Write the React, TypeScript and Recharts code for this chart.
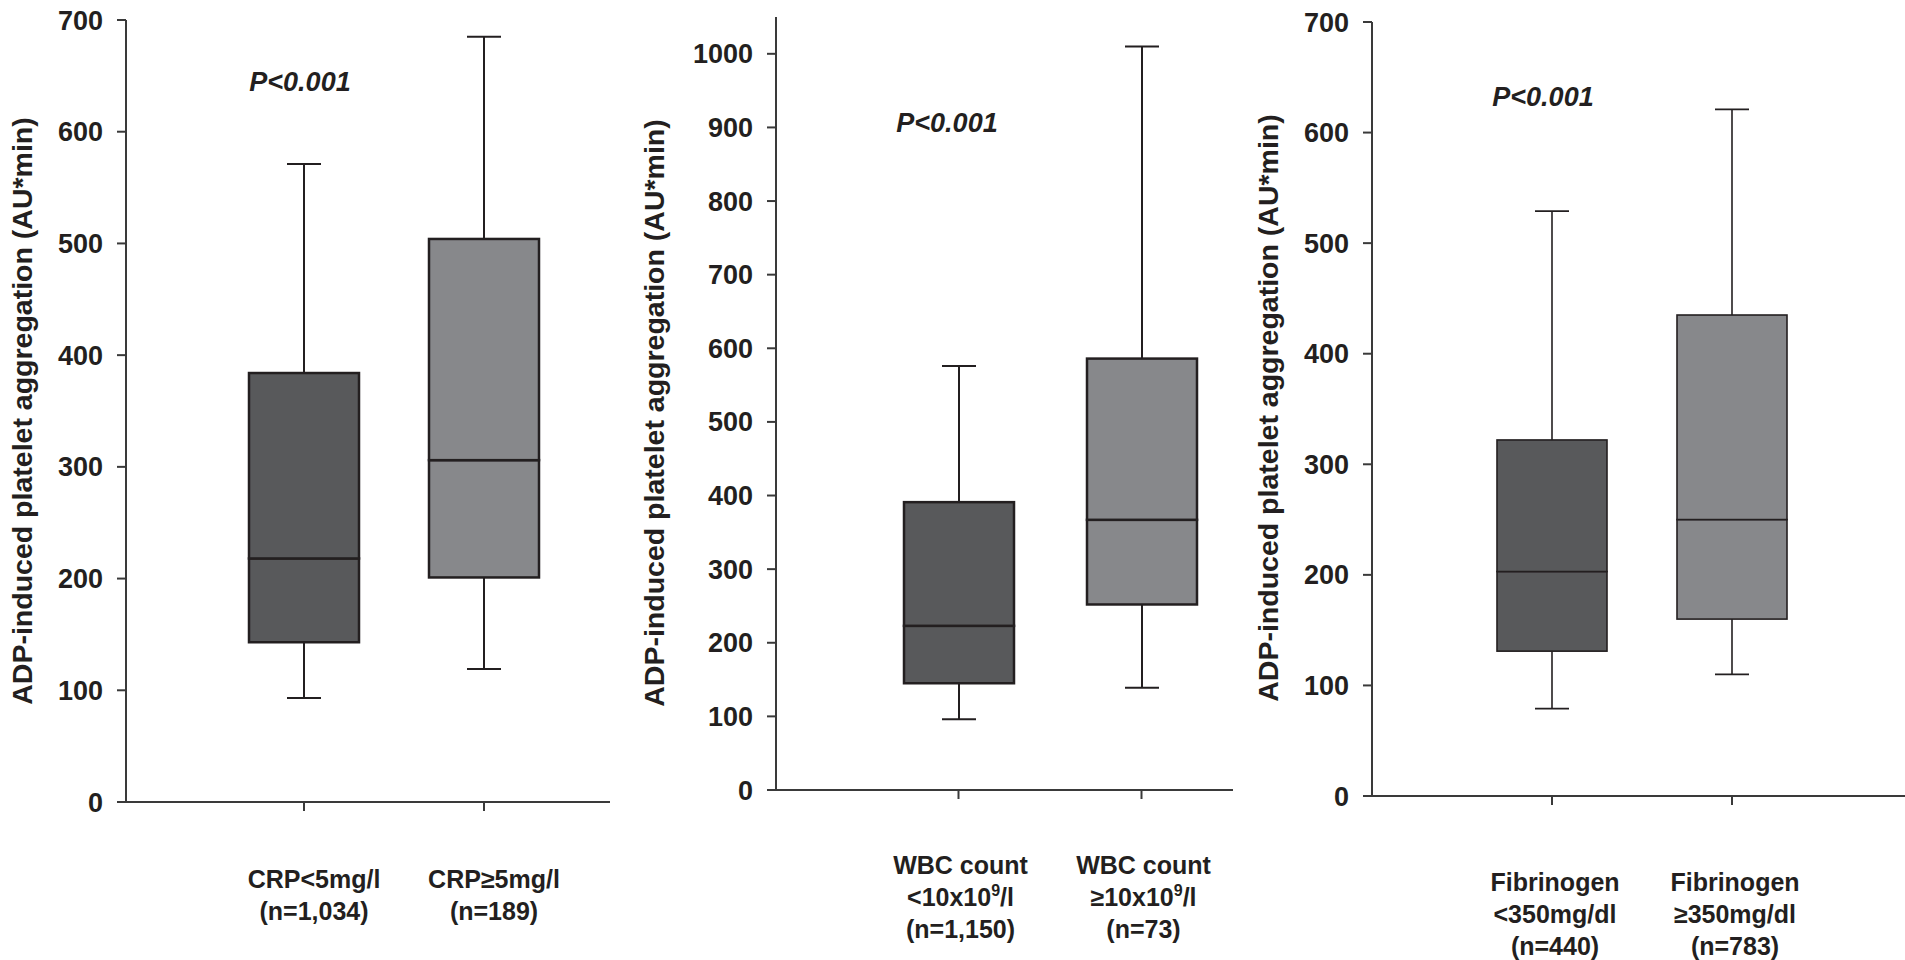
import React from 'react';
import { BarChart, Bar, XAxis, YAxis } from 'recharts';

// ---------------- data ----------------
// Panel 1: CRP
const crpLabels = [
  ['CRP<5mg/l', '(n=1,034)'],
  ['CRP≥5mg/l', '(n=189)'],
];
const crpMin = [93, 119];
const crpQ1 = [143, 201];
const crpMedian = [218, 306];
const crpQ3 = [384, 504];
const crpMax = [571, 685];
const crpTicks = [0, 100, 200, 300, 400, 500, 600, 700];

// Panel 2: WBC count
const wbcLabels = [
  ['WBC count', '<10x10^9/l', '(n=1,150)'],
  ['WBC count', '≥10x10^9/l', '(n=73)'],
];
const wbcMin = [96, 139];
const wbcQ1 = [145, 252];
const wbcMedian = [223, 367];
const wbcQ3 = [391, 586];
const wbcMax = [576, 1010];
const wbcTicks = [0, 100, 200, 300, 400, 500, 600, 700, 800, 900, 1000];

// Panel 3: Fibrinogen
const fibLabels = [
  ['Fibrinogen', '<350mg/dl', '(n=440)'],
  ['Fibrinogen', '≥350mg/dl', '(n=783)'],
];
const fibMin = [79, 110];
const fibQ1 = [131, 160];
const fibMedian = [203, 250];
const fibQ3 = [322, 435];
const fibMax = [529, 621];
const fibTicks = [0, 100, 200, 300, 400, 500, 600, 700];

const yTitle = 'ADP-induced platelet aggregation (AU*min)';
const pText = 'P<0.001';

// ---------------- styles ----------------
const FONT = '"Liberation Sans", Arial, Helvetica, sans-serif';
const INK = '#231f20';
const AXIS = '#3a3a3a';
const BOX_FILLS = ['#58595b', '#87888b'];
const CAP = 34;

function buildRows(min: number[], q1: number[], med: number[], q3: number[], max: number[]) {
  return min.map((m, i) => ({
    key: 'g' + i,
    base: m,
    lowW: q1[i] - m,
    boxLo: med[i] - q1[i],
    boxHi: q3[i] - med[i],
    highW: max[i] - q3[i],
  }));
}

function renderLine(line: string) {
  const idx = line.indexOf('^');
  if (idx < 0) return line;
  const a = line.slice(0, idx);
  const sup = line.charAt(idx + 1);
  const rest = line.slice(idx + 2);
  return [
    <tspan key="a">{a}</tspan>,
    <tspan key="s" dy={-10} fontSize={16}>{sup}</tspan>,
    <tspan key="r" dy={10}>{rest}</tspan>,
  ];
}

type PanelProps = {
  left: number;
  width: number;
  rows: any[];
  labels: string[][];
  ticks: number[];
  domainMax: number;
  margin: { top: number; right: number; bottom: number; left: number };
  padding: { left: number; right: number };
  labelFirst: number;
  labelGap: number;
  labelDx: number;
  boxStroke: number;
  whiskerStroke: number;
  titlePos: [number, number];
  pPos: [number, number];
};

function Panel(p: PanelProps) {
  const tick = (props: any) => {
    const { x, y, payload } = props;
    const i = parseInt(String(payload.value).slice(1), 10);
    const lines = p.labels[i] || [];
    return (
      <g>
        {lines.map((ln, k) => (
          <text
            key={k}
            x={x + p.labelDx}
            y={y + p.labelFirst + k * p.labelGap}
            textAnchor="middle"
            fontFamily={FONT}
            fontWeight={700}
            fontSize={25}
            fill={INK}
          >
            {renderLine(ln)}
          </text>
        ))}
      </g>
    );
  };

  const whisker = (end: 'top' | 'bottom') => (s: any) => {
    const { x, y, width, height } = s;
    const cx = x + width / 2;
    const capY = end === 'top' ? y : y + height;
    return (
      <g>
        <line x1={cx} x2={cx} y1={y} y2={y + height} stroke={INK} strokeWidth={p.whiskerStroke} />
        <line x1={cx - CAP / 2} x2={cx + CAP / 2} y1={capY} y2={capY} stroke={INK} strokeWidth={p.whiskerStroke} />
      </g>
    );
  };

  const box = (s: any) => (
    <rect
      x={s.x}
      y={s.y}
      width={s.width}
      height={s.height}
      fill={BOX_FILLS[s.index % BOX_FILLS.length]}
      stroke={INK}
      strokeWidth={p.boxStroke}
    />
  );

  const annotations = () => (
    <g>
      <text
        x={p.titlePos[0]}
        y={p.titlePos[1]}
        transform={`rotate(-90 ${p.titlePos[0]} ${p.titlePos[1]})`}
        textAnchor="middle"
        dominantBaseline="central"
        fontFamily={FONT}
        fontWeight={700}
        fontSize={28.5}
        fill={INK}
      >
        {yTitle}
      </text>
      <text
        x={p.pPos[0]}
        y={p.pPos[1]}
        textAnchor="middle"
        dominantBaseline="central"
        fontFamily={FONT}
        fontWeight={700}
        fontStyle="italic"
        fontSize={27}
        fill={INK}
      >
        {pText}
      </text>
    </g>
  );

  return (
    <div style={{ position: 'absolute', left: p.left, top: 0, width: p.width, height: 960 }}>
      <BarChart width={p.width} height={960} data={p.rows} margin={p.margin}>
        <XAxis
          dataKey="key"
          type="category"
          interval={0}
          padding={p.padding}
          height={150}
          tickSize={9}
          axisLine={{ stroke: AXIS, strokeWidth: 2 }}
          tickLine={{ stroke: AXIS, strokeWidth: 2 }}
          tick={tick}
        />
        <YAxis
          type="number"
          domain={[0, p.domainMax]}
          ticks={p.ticks}
          interval={0}
          width={60}
          tickSize={9}
          tickMargin={14}
          axisLine={{ stroke: AXIS, strokeWidth: 2 }}
          tickLine={{ stroke: AXIS, strokeWidth: 2 }}
          tick={{ fontSize: 27, fontWeight: 700, fill: INK, fontFamily: FONT }}
          label={annotations}
        />
        <Bar dataKey="base" stackId="a" barSize={110} isAnimationActive={false} shape={() => <g />} />
        <Bar dataKey="lowW" stackId="a" barSize={110} isAnimationActive={false} shape={whisker('bottom')} />
        <Bar dataKey="boxLo" stackId="a" barSize={110} isAnimationActive={false} shape={box} />
        <Bar dataKey="boxHi" stackId="a" barSize={110} isAnimationActive={false} shape={box} />
        <Bar dataKey="highW" stackId="a" barSize={110} isAnimationActive={false} shape={whisker('top')} />
      </BarChart>
    </div>
  );
}

export default function App() {
  const crpRows = buildRows(crpMin, crpQ1, crpMedian, crpQ3, crpMax);
  const wbcRows = buildRows(wbcMin, wbcQ1, wbcMedian, wbcQ3, wbcMax);
  const fibRows = buildRows(fibMin, fibQ1, fibMedian, fibQ3, fibMax);
  return (
    <div style={{ position: 'absolute', left: 0, top: 0, width: 1905, height: 960, background: '#fff' }}>
      <Panel
        left={0}
        width={620}
        rows={crpRows}
        labels={crpLabels}
        ticks={crpTicks}
        domainMax={700}
        margin={{ top: 20, right: 10, bottom: 8, left: 66 }}
        padding={{ left: 88, right: 36 }}
        labelFirst={75}
        labelGap={32}
        labelDx={10}
        boxStroke={2.5}
        whiskerStroke={2}
        titlePos={[22, 411]}
        pPos={[300, 82]}
      />
      <Panel
        left={620}
        width={620}
        rows={wbcRows}
        labels={wbcLabels}
        ticks={wbcTicks}
        domainMax={1050}
        margin={{ top: 17, right: 7, bottom: 20, left: 96 }}
        padding={{ left: 91, right: 0 }}
        labelFirst={73}
        labelGap={32}
        labelDx={2}
        boxStroke={2.5}
        whiskerStroke={2}
        titlePos={[34, 413]}
        pPos={[327, 123]}
      />
      <Panel
        left={1240}
        width={665}
        rows={fibRows}
        labels={fibLabels}
        ticks={fibTicks}
        domainMax={700}
        margin={{ top: 22, right: 0, bottom: 14, left: 72 }}
        padding={{ left: 90, right: 83 }}
        labelFirst={84}
        labelGap={32}
        labelDx={3}
        boxStroke={1.6}
        whiskerStroke={1.6}
        titlePos={[28, 408]}
        pPos={[303, 97]}
      />
    </div>
  );
}
